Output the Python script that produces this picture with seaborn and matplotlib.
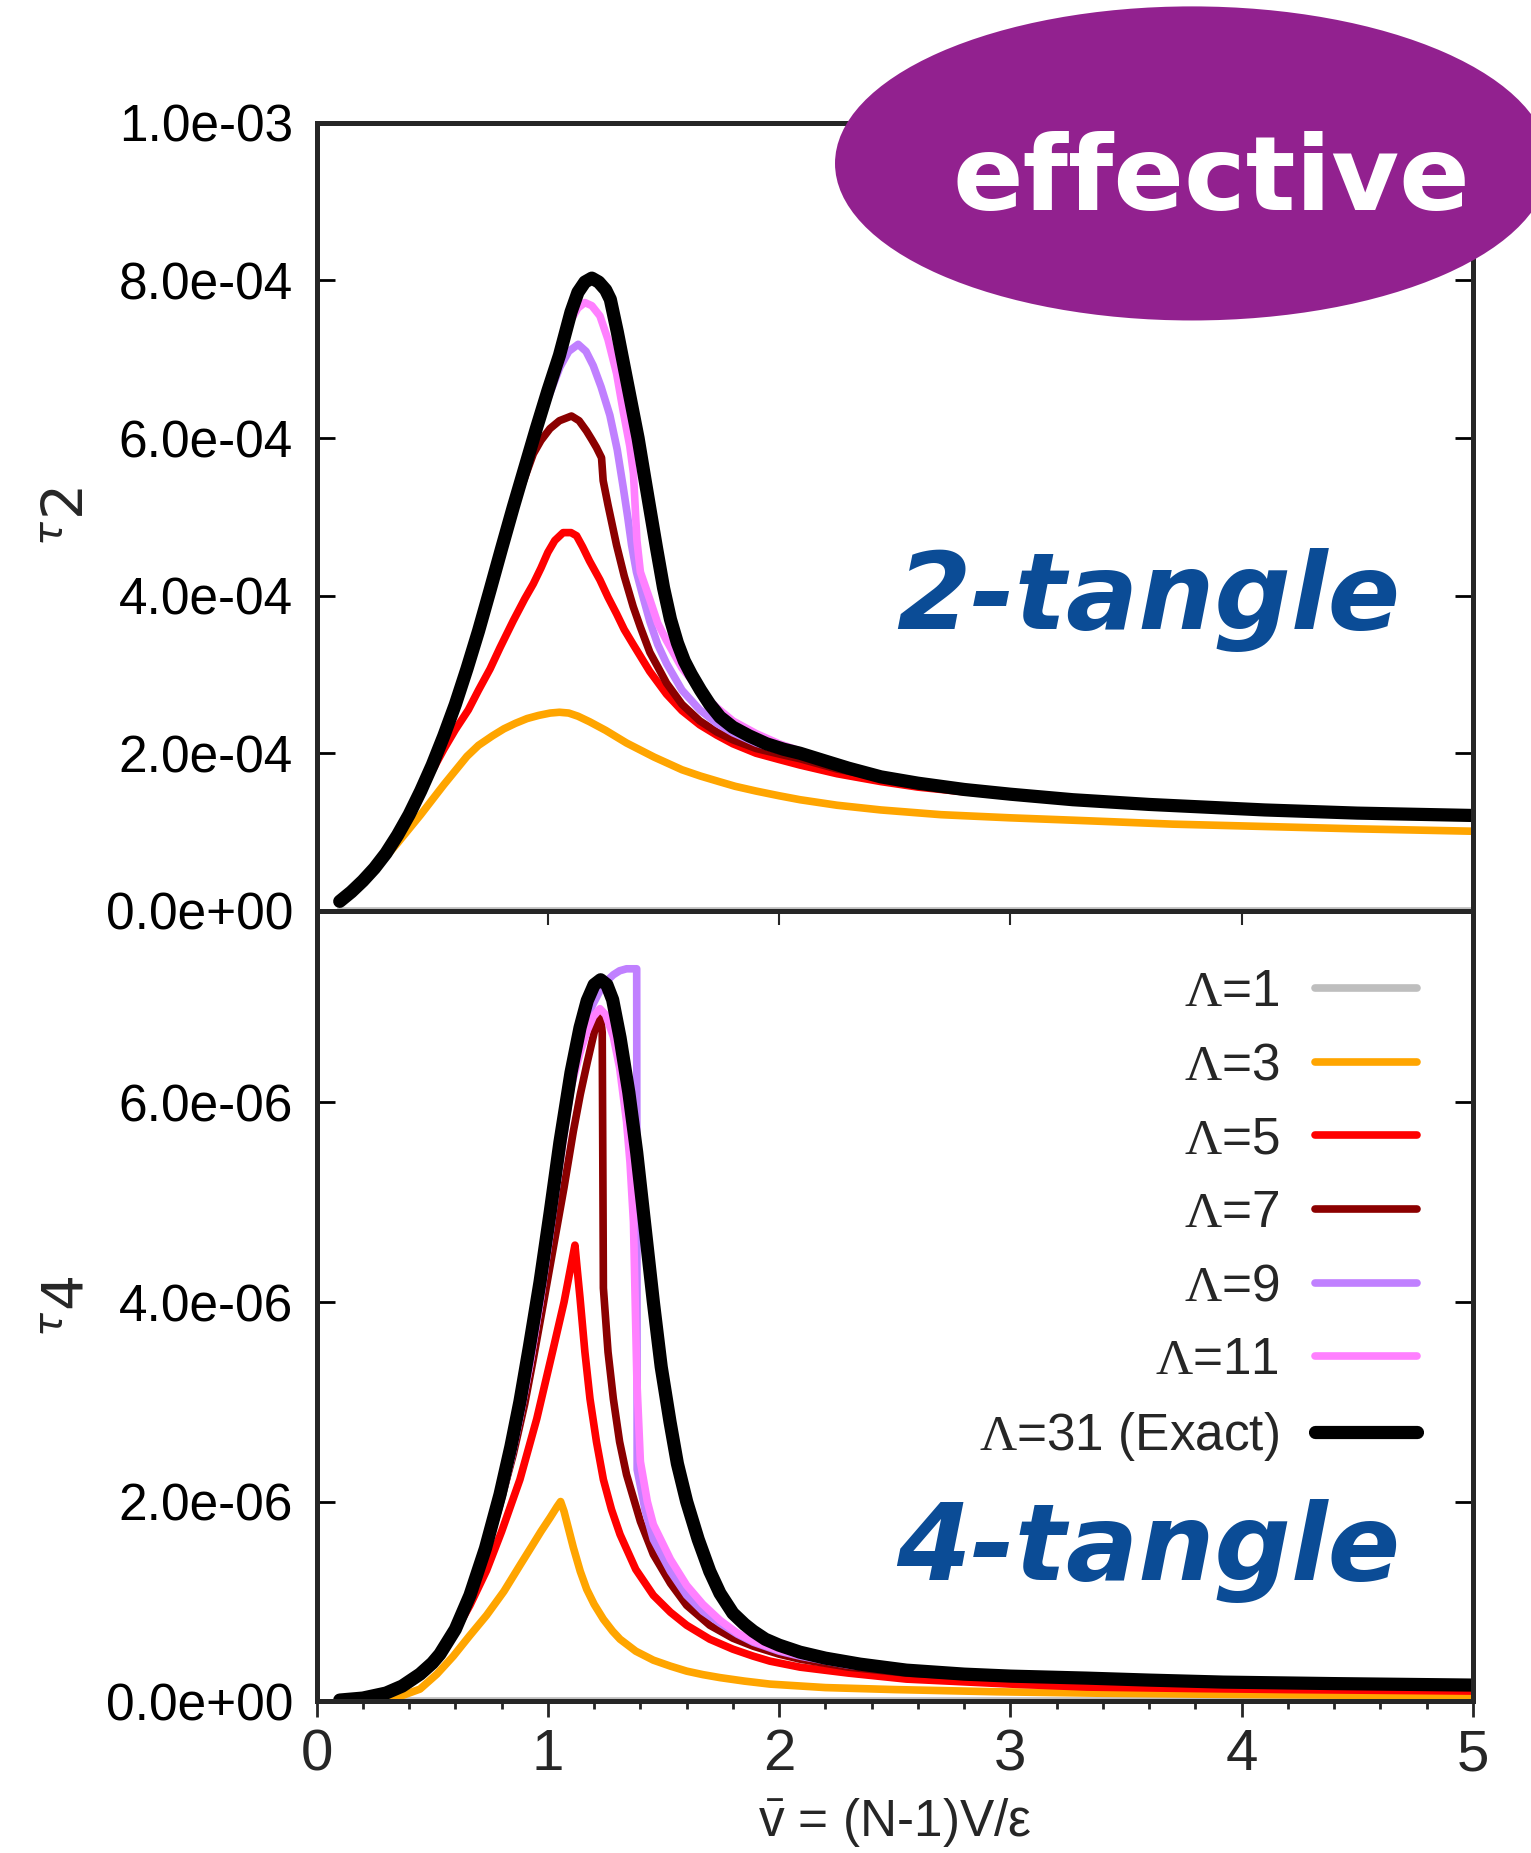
import matplotlib
matplotlib.use("Agg")
import matplotlib.pyplot as plt
import seaborn as sns
from matplotlib import font_manager
from matplotlib.patches import Ellipse
from matplotlib.ticker import MultipleLocator, FixedLocator, FuncFormatter

sns.set_style("ticks")

installed = {f.name for f in font_manager.fontManager.ttflist}
sans = "Liberation Sans Narrow" if "Liberation Sans Narrow" in installed else "Liberation Sans"

plt.rcParams["font.family"] = [sans, "DejaVu Sans"]
plt.rcParams["mathtext.fontset"] = "custom"
plt.rcParams["mathtext.rm"] = "Liberation Serif"
plt.rcParams["mathtext.it"] = "Liberation Serif:italic"
plt.rcParams["mathtext.sf"] = sans

# ---- data ----
labels = [r"$\Lambda$=1", r"$\Lambda$=3", r"$\Lambda$=5", r"$\Lambda$=7",
          r"$\Lambda$=9", r"$\Lambda$=11", r"$\Lambda$=31 (Exact)"]
colors = ["#BEBEBE", "#FFA500", "#FF0000", "#8B0000", "#C080FF", "#FF80FF", "#000000"]

# 2-tangle (upper panel), values in units of 1e-4
x2_L1 = [0.10, 5.00]
t2_L1 = [0.0, 0.0]
x2_L3 = [0.10, 0.15, 0.20, 0.25, 0.30, 0.35, 0.40, 0.45, 0.50, 0.55, 0.60, 0.65, 0.70, 0.76,
         0.81, 0.86, 0.91, 0.96, 1.01, 1.05, 1.09, 1.13, 1.18, 1.25, 1.34, 1.40, 1.46, 1.52,
         1.58, 1.66, 1.74, 1.81, 1.90, 2.00, 2.09, 2.25, 2.44, 2.70, 3.00, 3.27, 3.70, 4.10,
         4.50, 5.00]
t2_L3 = [0.12, 0.24, 0.38, 0.53, 0.69, 0.86, 1.04, 1.22, 1.41, 1.60, 1.78, 1.96, 2.10, 2.22,
         2.31, 2.38, 2.44, 2.48, 2.51, 2.52, 2.51, 2.47, 2.40, 2.29, 2.13, 2.04, 1.95, 1.87,
         1.79, 1.71, 1.64, 1.58, 1.52, 1.46, 1.41, 1.34, 1.28, 1.22, 1.18, 1.15, 1.10, 1.07,
         1.04, 1.01]
x2_L5 = [0.10, 0.15, 0.20, 0.25, 0.30, 0.35, 0.40, 0.45, 0.50, 0.55, 0.60, 0.656, 0.70, 0.75,
         0.793, 0.85, 0.90, 0.937, 0.97, 1.00, 1.03, 1.066, 1.10, 1.124, 1.15, 1.18, 1.225,
         1.26, 1.297, 1.33, 1.369, 1.44, 1.513, 1.58, 1.657, 1.73, 1.80, 1.90, 2.00, 2.09,
         2.25, 2.44, 2.60, 2.80, 3.00, 3.27, 3.60, 4.10, 4.50, 5.00]
t2_L5 = [0.12, 0.24, 0.38, 0.54, 0.73, 0.96, 1.22, 1.50, 1.78, 2.05, 2.30, 2.55, 2.80, 3.07,
         3.34, 3.68, 3.96, 4.15, 4.35, 4.55, 4.70, 4.80, 4.80, 4.76, 4.62, 4.44, 4.20,
         3.98, 3.77, 3.57, 3.38, 3.04, 2.75, 2.54, 2.36, 2.23, 2.12, 2.00, 1.92, 1.85,
         1.74, 1.64, 1.57, 1.51, 1.47, 1.41, 1.35, 1.28, 1.24, 1.21]
x2_L7 = [0.10, 0.15, 0.20, 0.25, 0.30, 0.35, 0.40, 0.45, 0.50, 0.55, 0.60, 0.65, 0.70, 0.75,
         0.80, 0.85, 0.90, 0.937, 0.97, 1.009, 1.05, 1.102, 1.135, 1.167, 1.19, 1.21, 1.232,
         1.239, 1.26, 1.297, 1.33, 1.369, 1.40, 1.441, 1.48, 1.513, 1.58, 1.657, 1.73, 1.80,
         1.90, 2.00, 2.09, 2.25, 2.44, 2.60, 2.80, 3.00, 3.27, 3.60, 4.10, 4.50, 5.00]
t2_L7 = [0.12, 0.24, 0.38, 0.54, 0.73, 0.96, 1.22, 1.52, 1.85, 2.22, 2.62, 3.07, 3.55, 4.07,
         4.60, 5.10, 5.50, 5.80, 5.97, 6.12, 6.22, 6.28, 6.22, 6.09, 5.98, 5.88, 5.75,
         5.46, 5.15, 4.64, 4.25, 3.86, 3.60, 3.28, 3.07, 2.89, 2.62, 2.41, 2.27, 2.17,
         2.06, 1.99, 1.93, 1.80, 1.69, 1.62, 1.54, 1.48, 1.41, 1.35, 1.28, 1.24, 1.21]
x2_L9 = [0.10, 0.15, 0.20, 0.25, 0.30, 0.35, 0.40, 0.45, 0.50, 0.55, 0.60, 0.65, 0.70, 0.75,
         0.80, 0.85, 0.90, 0.95, 1.00, 1.052, 1.09, 1.131, 1.165, 1.196, 1.23, 1.268, 1.30,
         1.326, 1.345, 1.362, 1.383, 1.41, 1.441, 1.475, 1.513, 1.58, 1.657, 1.73, 1.80,
         1.90, 2.00, 2.09, 2.25, 2.44, 2.60, 2.80, 3.00, 3.27, 3.60, 4.10, 4.50, 5.00]
t2_L9 = [0.12, 0.24, 0.38, 0.54, 0.73, 0.96, 1.22, 1.52, 1.85, 2.22, 2.62, 3.07, 3.55, 4.07,
         4.60, 5.12, 5.62, 6.08, 6.50, 6.90, 7.10, 7.19, 7.10, 6.92, 6.65, 6.29, 5.85,
         5.37, 5.00, 4.64, 4.30, 4.00, 3.67, 3.38, 3.14, 2.80, 2.55, 2.38, 2.26,
         2.13, 2.04, 1.98, 1.84, 1.70, 1.62, 1.54, 1.48, 1.41, 1.35, 1.28, 1.24, 1.21]
x2_L11 = [0.10, 0.15, 0.20, 0.25, 0.30, 0.35, 0.40, 0.45, 0.50, 0.55, 0.60, 0.65, 0.70, 0.75,
          0.80, 0.85, 0.90, 0.95, 1.00, 1.05, 1.10, 1.13, 1.16, 1.19, 1.225, 1.26, 1.297,
          1.325, 1.354, 1.37, 1.385, 1.40, 1.441, 1.475, 1.513, 1.58, 1.657, 1.73, 1.80,
          1.90, 2.00, 2.09, 2.25, 2.44, 2.60, 2.80, 3.00, 3.27, 3.60, 4.10, 4.50, 5.00]
t2_L11 = [0.12, 0.24, 0.38, 0.54, 0.73, 0.96, 1.22, 1.52, 1.85, 2.22, 2.62, 3.07, 3.55, 4.07,
          4.60, 5.12, 5.62, 6.12, 6.60, 7.05, 7.50, 7.65, 7.72, 7.68, 7.55, 7.25, 6.82,
          6.35, 5.90, 5.55, 4.70, 4.30, 3.95, 3.65, 3.43, 3.08, 2.80, 2.58, 2.41,
          2.25, 2.12, 2.03, 1.86, 1.70, 1.62, 1.54, 1.48, 1.41, 1.35, 1.28, 1.24, 1.21]
x2_L31 = [0.10, 0.15, 0.20, 0.25, 0.30, 0.35, 0.40, 0.45, 0.50, 0.55, 0.60, 0.65, 0.70, 0.75,
          0.80, 0.85, 0.90, 0.95, 1.00, 1.05, 1.10, 1.13, 1.16, 1.19, 1.22, 1.25, 1.27, 1.30,
          1.32, 1.35, 1.39, 1.42, 1.44, 1.47, 1.50, 1.53, 1.56, 1.59, 1.62, 1.66, 1.70, 1.744,
          1.80, 1.87, 1.945, 2.02, 2.09, 2.20, 2.30, 2.44, 2.60, 2.80, 3.00, 3.27, 3.60, 4.10,
          4.50, 5.00]
t2_L31 = [0.12, 0.24, 0.38, 0.54, 0.73, 0.96, 1.22, 1.52, 1.85, 2.22, 2.62, 3.07, 3.55, 4.07,
          4.60, 5.12, 5.62, 6.12, 6.60, 7.05, 7.60, 7.85, 7.98, 8.03, 7.98, 7.88, 7.76, 7.35,
          7.05, 6.60, 6.00, 5.47, 5.12, 4.60, 4.10, 3.70, 3.40, 3.17, 3.00, 2.80, 2.62, 2.46,
          2.33, 2.22, 2.12, 2.05, 2.00, 1.90, 1.81, 1.70, 1.62, 1.54, 1.48, 1.41, 1.35, 1.28,
          1.24, 1.21]

# 4-tangle (lower panel), values in units of 1e-6
x4_L1 = [0.10, 5.00]
t4_L1 = [0.0, 0.0]
x4_L3 = [0.10, 0.20, 0.30, 0.37, 0.447, 0.52, 0.591, 0.66, 0.735, 0.81, 0.879, 0.93, 0.97,
         1.01, 1.04, 1.055, 1.07, 1.09, 1.11, 1.14, 1.168, 1.20, 1.24, 1.28, 1.312, 1.38,
         1.456, 1.53, 1.60, 1.67, 1.744, 1.85, 1.96, 2.20, 2.50, 2.94, 3.40, 3.92, 4.50, 5.00]
t4_L3 = [0.0, 0.005, 0.025, 0.055, 0.12, 0.27, 0.45, 0.65, 0.86, 1.10, 1.36, 1.55, 1.70,
         1.84, 1.95, 2.00, 1.90, 1.72, 1.54, 1.30, 1.12, 0.97, 0.82, 0.70, 0.62, 0.50,
         0.41, 0.35, 0.30, 0.265, 0.235, 0.20, 0.17, 0.135, 0.115, 0.093, 0.078, 0.067,
         0.058, 0.053]
x4_L5 = [0.10, 0.20, 0.30, 0.37, 0.447, 0.50, 0.533, 0.591, 0.663, 0.735, 0.80, 0.879, 0.952,
         1.023, 1.07, 1.117, 1.128, 1.139, 1.16, 1.182, 1.21, 1.24, 1.275, 1.312, 1.38, 1.456,
         1.53, 1.60, 1.70, 1.80, 1.888, 1.96, 2.09, 2.30, 2.55, 3.00, 3.33, 3.80, 4.20, 5.00]
t4_L5 = [0.01, 0.03, 0.08, 0.15, 0.26, 0.36, 0.44, 0.66, 0.96, 1.31, 1.70, 2.22, 2.83,
         3.53, 4.00, 4.57, 4.30, 4.04, 3.50, 3.03, 2.60, 2.22, 1.92, 1.67, 1.32, 1.06,
         0.89, 0.76, 0.62, 0.52, 0.45, 0.40, 0.34, 0.28, 0.22, 0.17, 0.14, 0.125, 0.115, 0.10]
x4_L7 = [0.10, 0.20, 0.30, 0.37, 0.447, 0.533, 0.60, 0.663, 0.735, 0.79, 0.85, 0.90, 0.937,
         0.98, 1.023, 1.07, 1.11, 1.14, 1.17, 1.20, 1.225, 1.235, 1.24, 1.26, 1.283, 1.31,
         1.34, 1.40, 1.456, 1.53, 1.60, 1.70, 1.80, 1.888, 2.00, 2.09, 2.30, 2.55, 3.00,
         3.33, 4.00, 5.00]
t4_L7 = [0.01, 0.03, 0.08, 0.15, 0.27, 0.47, 0.72, 1.00, 1.51, 1.95, 2.47, 2.98, 3.43,
         3.98, 4.54, 5.15, 5.71, 6.08, 6.40, 6.70, 6.92, 6.70, 4.14, 3.50, 3.03, 2.60,
         2.27, 1.80, 1.47, 1.18, 0.96, 0.76, 0.63, 0.55, 0.47, 0.42, 0.34, 0.28, 0.23,
         0.21, 0.18, 0.155]
x4_L9 = [0.10, 0.20, 0.30, 0.37, 0.447, 0.50, 0.533, 0.60, 0.663, 0.73, 0.793, 0.84, 0.879,
         0.92, 0.966, 1.01, 1.052, 1.10, 1.139, 1.17, 1.196, 1.225, 1.255, 1.283, 1.31, 1.34,
         1.384, 1.386, 1.42, 1.456, 1.53, 1.60, 1.67, 1.744, 1.82, 1.888, 2.00, 2.09, 2.30,
         2.55, 2.80, 3.00, 3.33, 3.60, 3.92, 4.40, 5.00]
t4_L9 = [0.01, 0.03, 0.08, 0.15, 0.27, 0.38, 0.47, 0.72, 1.04, 1.48, 1.98, 2.42, 2.85,
         3.35, 4.00, 4.70, 5.45, 6.15, 6.61, 6.85, 6.99, 7.12, 7.22, 7.28, 7.32, 7.34,
         7.34, 2.32, 1.92, 1.62, 1.30, 1.06, 0.90, 0.78, 0.67, 0.59, 0.50, 0.45, 0.36,
         0.30, 0.27, 0.25, 0.23, 0.21, 0.19, 0.175, 0.16]
x4_L11 = [0.10, 0.20, 0.30, 0.37, 0.447, 0.50, 0.533, 0.60, 0.663, 0.73, 0.793, 0.84, 0.879,
          0.92, 0.966, 1.01, 1.052, 1.10, 1.139, 1.17, 1.196, 1.225, 1.25, 1.283, 1.31, 1.34,
          1.355, 1.37, 1.385, 1.40, 1.43, 1.456, 1.53, 1.60, 1.67, 1.744, 1.82, 1.888, 2.00,
          2.09, 2.30, 2.55, 2.80, 3.00, 3.33, 3.60, 3.92, 4.40, 5.00]
t4_L11 = [0.01, 0.03, 0.08, 0.15, 0.27, 0.38, 0.47, 0.72, 1.04, 1.48, 1.98, 2.42, 2.85,
          3.35, 4.00, 4.70, 5.40, 6.15, 6.50, 6.72, 6.86, 6.94, 6.88, 6.66, 6.35, 5.81,
          5.40, 4.80, 3.20, 2.40, 2.00, 1.77, 1.42, 1.16, 0.97, 0.81, 0.68, 0.60, 0.51,
          0.46, 0.37, 0.30, 0.27, 0.25, 0.23, 0.21, 0.19, 0.175, 0.16]
x4_L31 = [0.10, 0.20, 0.30, 0.37, 0.447, 0.50, 0.533, 0.60, 0.663, 0.73, 0.793, 0.84, 0.879,
          0.92, 0.966, 1.01, 1.052, 1.10, 1.139, 1.17, 1.20, 1.228, 1.255, 1.28, 1.312, 1.35,
          1.384, 1.42, 1.456, 1.49, 1.528, 1.56, 1.60, 1.65, 1.70, 1.744, 1.80, 1.85, 1.888,
          1.94, 2.00, 2.09, 2.20, 2.35, 2.55, 2.80, 3.00, 3.33, 3.60, 3.92, 4.40, 5.00]
t4_L31 = [0.01, 0.03, 0.08, 0.15, 0.27, 0.38, 0.47, 0.72, 1.06, 1.53, 2.07, 2.55, 3.00,
          3.55, 4.20, 4.90, 5.60, 6.30, 6.75, 7.02, 7.18, 7.23, 7.18, 7.03, 6.65, 6.10,
          5.50, 4.75, 4.00, 3.35, 2.80, 2.38, 2.00, 1.62, 1.30, 1.08, 0.88, 0.77, 0.70,
          0.62, 0.56, 0.49, 0.43, 0.37, 0.31, 0.27, 0.25, 0.23, 0.21, 0.19, 0.175, 0.16]

x2_all = [x2_L1, x2_L3, x2_L5, x2_L7, x2_L9, x2_L11, x2_L31]
t2_all = [t2_L1, t2_L3, t2_L5, t2_L7, t2_L9, t2_L11, t2_L31]
x4_all = [x4_L1, x4_L3, x4_L5, x4_L7, x4_L9, x4_L11, x4_L31]
t4_all = [t4_L1, t4_L3, t4_L5, t4_L7, t4_L9, t4_L11, t4_L31]
widths = [5.5, 5.5, 5.5, 5.5, 5.5, 5.5, 9.5]

fig = plt.figure(figsize=(15.31, 18.53), dpi=100)
ax1 = fig.add_axes([0.2068, 0.50847, 0.7553, 0.4252])
ax2 = fig.add_axes([0.2068, 0.0820, 0.7553, 0.4264])
ax1.set_zorder(2)

handles = []
for i in range(len(labels)):
    sns.lineplot(x=x2_all[i], y=[v * 1e-4 for v in t2_all[i]], ax=ax1, color=colors[i],
                 linewidth=widths[i], sort=False, estimator=None, legend=False)
    sns.lineplot(x=x4_all[i], y=[v * 1e-6 for v in t4_all[i]], ax=ax2, color=colors[i],
                 linewidth=widths[i], sort=False, estimator=None, legend=False)
    handles.append(ax2.lines[-1])

sci = FuncFormatter(lambda v, p: f"{v:.1e}")
for ax in (ax1, ax2):
    ax.set_xlim(0, 5)
    for s in ax.spines.values():
        s.set_linewidth(3.6)
        s.set_visible(True)
    ax.tick_params(axis="y", which="major", direction="in", left=True, right=True,
                   length=13, width=2, pad=17, labelsize=37, colors="black")
    ax.yaxis.set_major_formatter(sci)
    ax.set_xlabel("")
    ax.set_ylabel("")

ax1.set_ylim(0, 1e-3)
ax1.yaxis.set_major_locator(FixedLocator([0, 2e-4, 4e-4, 6e-4, 8e-4, 1e-3]))
ax1.xaxis.set_major_locator(MultipleLocator(1))
ax1.tick_params(axis="x", which="major", direction="out", bottom=True, length=10, width=1.5,
                labelbottom=False)

ax2.set_ylim(0, 7.92e-6)
ax2.yaxis.set_major_locator(FixedLocator([0, 2e-6, 4e-6, 6e-6]))
ax2.xaxis.set_major_locator(MultipleLocator(1))
ax2.xaxis.set_minor_locator(MultipleLocator(0.2))
ax2.tick_params(axis="x", which="major", direction="out", bottom=True, length=11.5, width=2,
                pad=8, labelsize=42)
ax2.tick_params(axis="x", which="minor", direction="out", bottom=True, length=5.5, width=2)

ax1.set_ylabel(r"${}^{\tau}2$", fontsize=41, math_fontfamily="dejavusans", rotation=90)
ax1.yaxis.set_label_coords(-0.19, 0.5)
ax2.set_ylabel(r"${}^{\tau}4$", fontsize=41, math_fontfamily="dejavusans", rotation=90)
ax2.yaxis.set_label_coords(-0.19, 0.5)
ax2.set_xlabel(r"$\bar{\mathsf{v}}$ = (N-1)V/ε", fontsize=37)
ax2.xaxis.set_label_coords(0.5, -0.12)

ax2.legend(handles, labels, loc="upper right", bbox_to_anchor=(0.952, 0.928), frameon=False,
           markerfirst=False, fontsize=37, handlelength=2.0, handletextpad=0.69,
           labelspacing=0.48, borderaxespad=0, borderpad=0)

title_blue = "#0B4C96"
ax1.text(0.937, 0.358, "2-tangle", transform=ax1.transAxes, ha="right", va="baseline",
         fontsize=77, fontweight="bold", style="italic", family="DejaVu Sans", color=title_blue)
ax2.text(0.937, 0.153, "4-tangle", transform=ax2.transAxes, ha="right", va="baseline",
         fontsize=77, fontweight="bold", style="italic", family="DejaVu Sans", color=title_blue)

fig.add_artist(Ellipse((0.7786, 0.9118), 0.4664, 0.1695, transform=fig.transFigure,
                       facecolor="#92218F", edgecolor="none", zorder=5))
fig.text(0.791, 0.8867, "effective", ha="center", va="baseline", fontsize=75,
         fontweight="bold", family="DejaVu Sans", color="white", zorder=6)

fig.savefig("out.png", dpi=100)
